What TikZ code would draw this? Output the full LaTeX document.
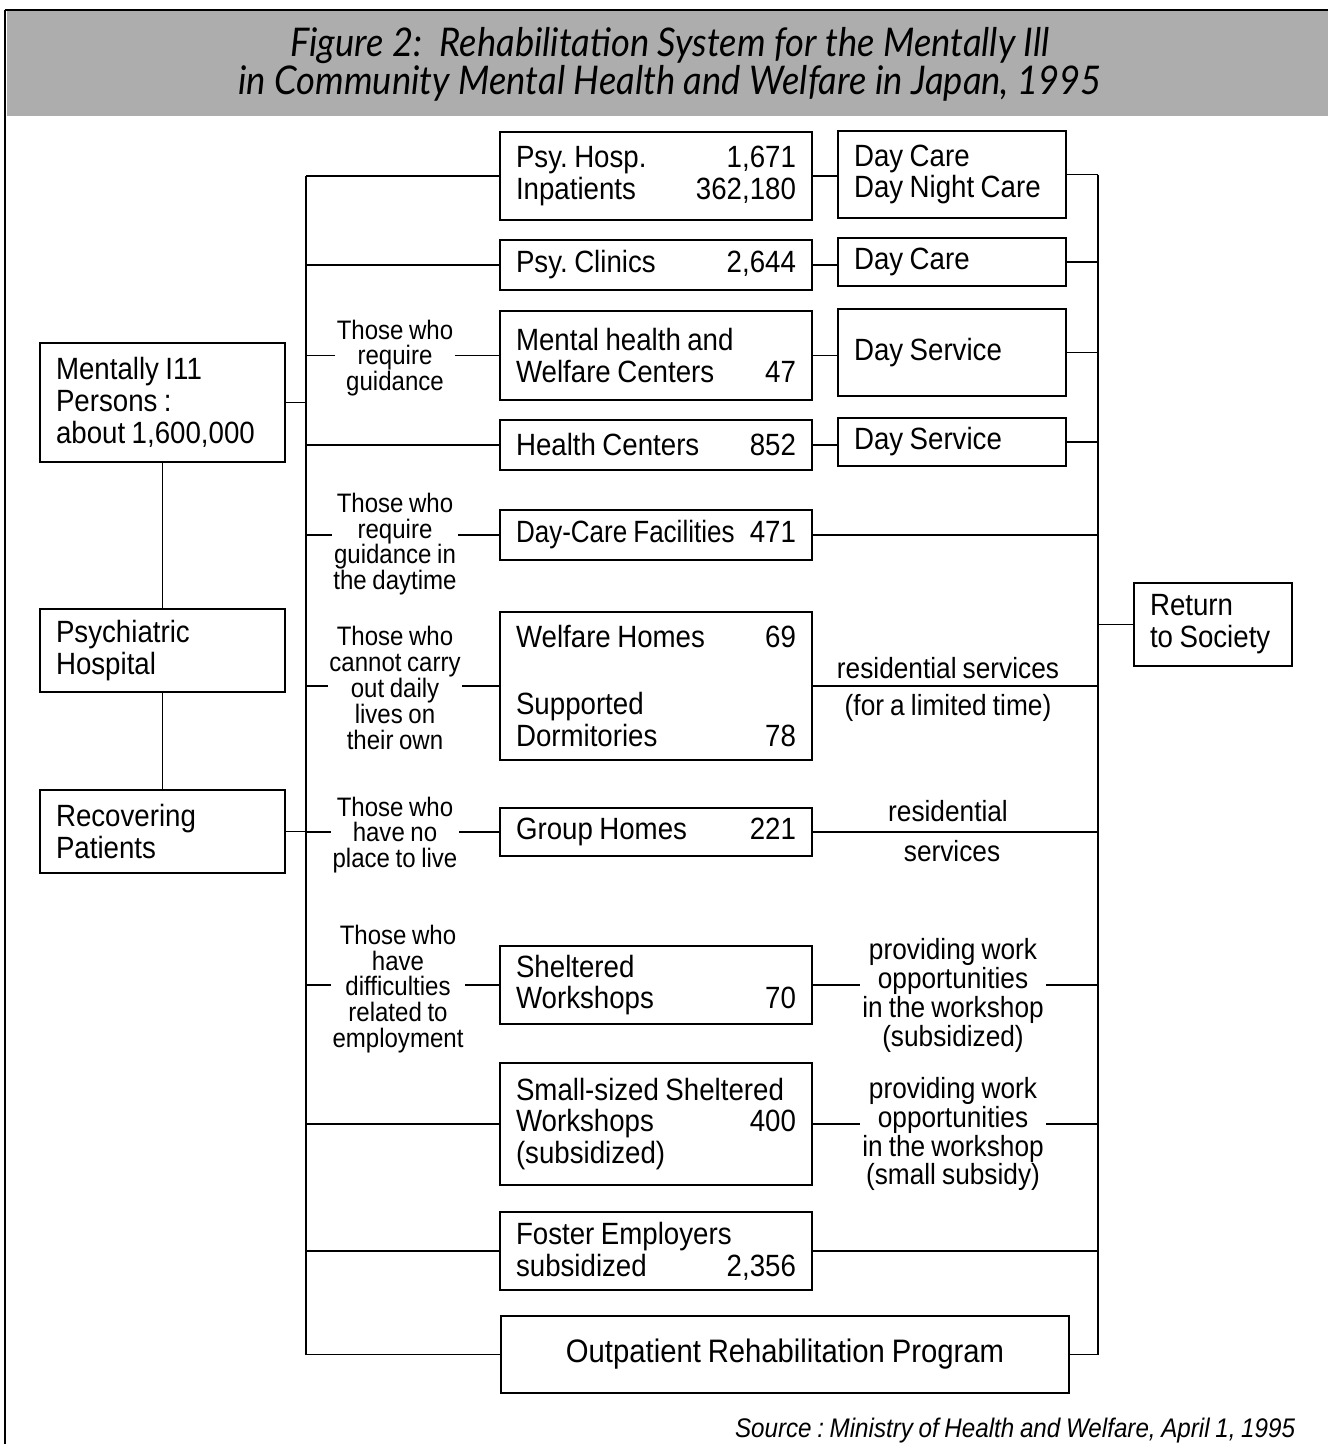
\documentclass[tikz,border=0pt]{standalone}
\usepackage{graphicx}
\usepackage{fontspec}
\setmainfont{Liberation Sans}[FakeStretch=0.9]
\newfontfamily\ttlfont{Lato}[FakeStretch=0.92]
\newcommand\tightsp{\fontdimen2\font=0.21em\relax}
\newcommand\boxfnt{\fontsize{17.5pt}{18.1pt}\selectfont\tightsp}
\newcommand\labfnt{\fontsize{15.2pt}{14.7pt}\selectfont\tightsp}
\newcommand\annfnt{\fontsize{16.6pt}{14.9pt}\selectfont\tightsp}
\newcommand\lrow[2]{\makebox[\hsize][l]{#1\hfill#2}}
\frenchspacing
\begin{document}
\begin{tikzpicture}[x=0.02cm,y=-0.02cm,line width=1.1pt,
  bx/.style={draw,inner xsep=0.32cm,inner ysep=0pt,align=left,font=\boxfnt,
    execute at begin node={\spaceskip=0.21em plus 0.05em\relax}},
  mbox/.style={bx,text width=5.6cm,minimum height=#1},
  rbox/.style={bx,text width=3.92cm,minimum height=#1},
  lbox/.style={bx,text width=4.26cm,minimum height=#1},
  lab/.style={fill=white,inner sep=1pt,align=center,font=\labfnt},
  ann/.style={fill=white,inner sep=1pt,align=center,font=\annfnt},
  plain/.style={inner sep=0pt,align=center,font=\annfnt}]
\useasboundingbox (0,0) rectangle (1328,1444);
% title bar and frame
\fill[black!32] (7,10) rectangle (1328,116);
\draw[line width=1.5pt] (5,10) -- (1328,10);
\draw (5,10) -- (5,1444);
\node[font=\ttlfont\itshape\fontsize{22.5pt}{19.8pt}\selectfont,align=center] (title) at (670,64)
  {Figure 2:\ \ Rehabilitation System for the Mentally Ill\\in Community Mental Health and Welfare in Japan, 1995};
% trunk reference coordinates
\coordinate (tl) at (306,600);
\coordinate (tr) at (1098,600);
% left column
\node[lbox=2.38cm] (mi) at (162.5,402.5) {Mentally I11\\Persons :\\about~1,600,000};
\node[lbox=1.66cm] (ph) at (162.5,650.5) {Psychiatric\\Hospital};
\node[lbox=1.66cm] (rp) at (162.5,831.5) {Recovering\\Patients};
% middle column
\node[mbox=1.76cm] (hosp) at (656,176) {\lrow{Psy. Hosp.}{1,671}\\\lrow{Inpatients}{362,180}};
\node[mbox=1.0cm] (clin) at (656,265) {\lrow{Psy. Clinics}{2,644}};
\node[mbox=1.78cm] (mhwc) at (656,355.5) {Mental health and\\\lrow{Welfare Centers}{47}};
\node[mbox=1.0cm] (hc) at (656,445) {\lrow{Health Centers}{852}};
\node[mbox=1.0cm] (dcf) at (656,535) {\lrow{\scalebox{0.94}[1]{Day-Care Facilities}}{471}};
\node[mbox=2.96cm] (wh) at (656,686) {\lrow{Welfare Homes}{69}\\[0.7cm]Supported\\\lrow{Dormitories}{78}};
\node[mbox=0.96cm] (gh) at (656,832) {\lrow{Group Homes}{221}};
\node[mbox=1.56cm] (sw) at (656,985) {Sheltered\\\lrow{Workshops}{70}};
\node[mbox=2.44cm] (ssw) at (656,1124) {\mbox{Small-sized Sheltered}\\\lrow{Workshops}{400}\\(subsidized)};
\node[mbox=1.56cm] (fe) at (656,1251) {Foster Employers\\\lrow{subsidized}{2,356}};
\node[bx,align=center,minimum width=11.36cm,minimum height=1.54cm,font=\fontsize{18.5pt}{19pt}\selectfont\tightsp] (op) at (785,1354.5) {Outpatient Rehabilitation Program};
% right column
\node[rbox=1.74cm] (dc1) at (952,174.5) {Day Care\\Day Night Care};
\node[rbox=0.96cm] (dc2) at (952,262) {Day Care};
\node[rbox=1.74cm] (ds1) at (952,352.5) {Day Service};
\node[rbox=0.96cm] (ds2) at (952,442) {Day Service};
\node[bx,text width=2.52cm,minimum height=1.66cm] (ret) at (1213,624.5) {Return\\to Society};
% left connectors
\draw (mi.south) -- (ph.north);
\draw (ph.south) -- (rp.north);
\draw (hosp.west -| tl) -- (op.west -| tl);
\draw (mi.east) -- (mi.east -| tl);
\draw (rp.east) -- (rp.east -| tl);
\foreach \n in {hosp,clin,mhwc,hc,dcf,wh,gh,sw,ssw,fe,op}
  \draw (\n.west) -- (\n.west -| tl);
% middle to right boxes
\draw (hosp.east) -- (hosp.east -| dc1.west);
\draw (clin.east) -- (clin.east -| dc2.west);
\draw (mhwc.east) -- (mhwc.east -| ds1.west);
\draw (hc.east) -- (hc.east -| ds2.west);
% right trunk
\draw (dc1.east -| tr) -- (op.east -| tr);
\foreach \n in {dc1,dc2,ds1,ds2,dcf,wh,gh,sw,ssw,fe,op}
  \draw (\n.east) -- (\n.east -| tr);
\draw (ret.west) -- (ret.west -| tr);
% left labels
\node[lab] (la1) at (395,358) {Those who\\require\\guidance};
\node[lab] (la2) at (395,544) {Those who\\require\\guidance in\\the daytime};
\node[lab] (la3) at (395,688) {Those who\\cannot carry\\out daily\\lives on\\their own};
\node[lab] (la4) at (395,835) {Those who\\have no\\place to live};
\node[lab] (la5) at (398,989) {Those who\\have\\difficulties\\related to\\employment};
% right annotations
\node[plain] (rs1) at (948,668) {residential services};
\node[plain] (rs2) at (948,708) {(for a limited time)};
\node[plain] (rs3) at (948,811) {residential};
\node[plain] (rs4) at (952,851) {services};
\node[ann] (ra1) at (953,995.5) {providing work\\opportunities\\in the workshop\\(subsidized)};
\node[ann] (ra2) at (953,1134) {providing work\\opportunities\\in the workshop\\(small subsidy)};
% source
\node[anchor=east,inner sep=0pt,font=\itshape\fontsize{15.3pt}{15pt}\selectfont\tightsp] (src) at (1296,1431)
  {Source : Ministry of Health and Welfare, April 1, 1995};
\end{tikzpicture}
\end{document}
